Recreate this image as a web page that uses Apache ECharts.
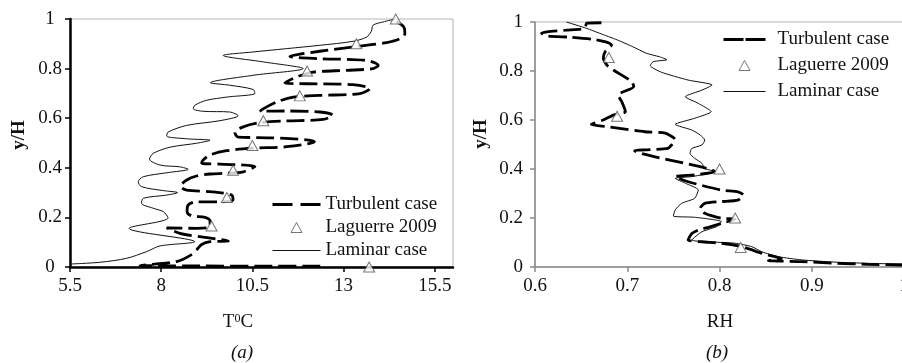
<!DOCTYPE html>
<html>
<head>
<meta charset="utf-8">
<script src="https://cdn.jsdelivr.net/npm/echarts@6/dist/echarts.min.js"></script>
<style>
  html, body { margin: 0; padding: 0; background: #fff; }
  #chart { width: 902px; height: 363px; }
</style>
</head>
<body>
<div id="chart"></div>
<script>
// tick labels
const tempTicks = [5.5, 8, 10.5, 13, 15.5]
const rhTicks = [0.6, 0.7, 0.8, 0.9, 1]
const names = ['Turbulent case', 'Laguerre 2009', 'Laminar case']

// (a) temperature profiles, [T, y/H]
const turbulentT = [
  [14.45, 0.99], [14.65, 0.968], [14.68, 0.941], [14.54, 0.92], [14.18, 0.905], [13.45, 0.891], [12.35, 0.87], [11.53, 0.849],
  [12.35, 0.84], [13.63, 0.833], [13.95, 0.813], [13.81, 0.8], [13.08, 0.793], [12.17, 0.786], [11.71, 0.766], [11.39, 0.742],
  [11.98, 0.739], [13.26, 0.735], [13.72, 0.719], [13.45, 0.699], [12.35, 0.692], [11.62, 0.685], [11.16, 0.665], [10.8, 0.638], [10.71, 0.628],
  [11.44, 0.629], [12.35, 0.625], [12.7, 0.612], [12.44, 0.595], [11.44, 0.589], [10.71, 0.582], [10.25, 0.565], [10.02, 0.542], [10.11, 0.524],
  [10.98, 0.521], [11.98, 0.513], [12.2, 0.505], [11.44, 0.485], [10.52, 0.479], [9.79, 0.469], [9.34, 0.452], [9.15, 0.431], [9.11, 0.418],
  [9.61, 0.415], [10.57, 0.405], [10.25, 0.384], [9.79, 0.378], [9.34, 0.375], [8.97, 0.367], [8.7, 0.351], [8.53, 0.325],
  [8.7, 0.31], [9.34, 0.304], [9.93, 0.29], [9.97, 0.27], [9.61, 0.263], [8.97, 0.263], [8.74, 0.25], [8.71, 0.223], [8.83, 0.207], [9.2, 0.2],
  [9.34, 0.185], [9.34, 0.163], [8.97, 0.156], [8.15, 0.158], [8.51, 0.136], [9.15, 0.12], [9.84, 0.105], [9.34, 0.102], [9.11, 0.091],
  [8.97, 0.069], [8.79, 0.046], [8.42, 0.022], [7.78, 0.011], [7.42, 0.006], [12.4, 0.003]
]
const laminarT = [
  [14.43, 1.0], [14.08, 0.988], [13.81, 0.975], [13.76, 0.95], [13.63, 0.927], [13.26, 0.91], [12.35, 0.894], [10.52, 0.867], [9.7, 0.853],
  [10.8, 0.827], [11.89, 0.8], [10.52, 0.773], [9.35, 0.743], [9.88, 0.733], [10.52, 0.716], [10.57, 0.7], [9.79, 0.685], [9.24, 0.672], [8.92, 0.652], [8.88, 0.638],
  [9.15, 0.628], [9.88, 0.625], [10.11, 0.61], [9.61, 0.59], [8.7, 0.571], [8.19, 0.544], [8.15, 0.528], [8.7, 0.517], [9.34, 0.511],
  [8.97, 0.499], [8.24, 0.483], [7.78, 0.458], [7.68, 0.435], [7.97, 0.411], [8.51, 0.404], [8.74, 0.394], [8.15, 0.38], [7.51, 0.364], [7.37, 0.344],
  [7.46, 0.324], [8.06, 0.308], [8.45, 0.3], [8.15, 0.29], [7.51, 0.277], [7.46, 0.257], [7.78, 0.237], [8.06, 0.223], [8.19, 0.198],
  [7.12, 0.156], [8.92, 0.102], [7.97, 0.085], [7.6, 0.062], [7.05, 0.035], [6.32, 0.019], [5.5, 0.012]
]
const laguerreT = [
  [14.43, 1.0], [13.35, 0.9], [12.0, 0.79], [11.8, 0.69], [10.8, 0.59], [10.5, 0.49],
  [9.97, 0.39], [9.8, 0.28], [9.38, 0.165], [13.7, 0.0]
]

// (b) relative humidity profiles, [RH, y/H]
const turbulentRH = [
  [0.672, 0.997], [0.656, 0.995], [0.654, 0.974], [0.634, 0.967], [0.613, 0.96], [0.607, 0.954], [0.613, 0.943], [0.638, 0.938], [0.663, 0.929], [0.679, 0.916], [0.683, 0.906],
  [0.676, 0.879], [0.674, 0.852], [0.678, 0.824], [0.685, 0.804], [0.705, 0.756], [0.707, 0.736], [0.69, 0.702], [0.694, 0.675], [0.698, 0.634], [0.685, 0.62], [0.674, 0.6],
  [0.661, 0.582], [0.68, 0.572], [0.719, 0.552], [0.741, 0.546], [0.752, 0.52], [0.748, 0.498], [0.744, 0.484], [0.719, 0.478], [0.708, 0.475], [0.795, 0.389],
  [0.773, 0.376], [0.752, 0.369], [0.766, 0.348], [0.802, 0.314], [0.82, 0.307], [0.826, 0.294], [0.82, 0.273], [0.802, 0.267], [0.784, 0.26], [0.779, 0.24],
  [0.784, 0.219], [0.802, 0.199], [0.817, 0.195], [0.802, 0.178], [0.788, 0.162], [0.777, 0.151], [0.77, 0.137], [0.766, 0.11], [0.781, 0.103], [0.802, 0.097],
  [0.824, 0.083], [0.846, 0.056], [0.86, 0.042], [0.867, 0.035], [0.853, 0.026], [0.889, 0.022], [0.925, 0.015], [0.961, 0.011], [1.0, 0.008]
]
const laminarRH = [
  [0.634, 1.0], [0.656, 0.974], [0.67, 0.954], [0.689, 0.927], [0.706, 0.899], [0.721, 0.872], [0.735, 0.858], [0.743, 0.846], [0.728, 0.838], [0.725, 0.822], [0.737, 0.795],
  [0.766, 0.763], [0.792, 0.743], [0.781, 0.722], [0.763, 0.695], [0.777, 0.668], [0.791, 0.634], [0.773, 0.607], [0.752, 0.582], [0.77, 0.559], [0.779, 0.539], [0.784, 0.518],
  [0.781, 0.498], [0.77, 0.484], [0.768, 0.464], [0.773, 0.444], [0.781, 0.423], [0.784, 0.403], [0.795, 0.389], [0.77, 0.369], [0.752, 0.362], [0.763, 0.342], [0.777, 0.314],
  [0.773, 0.28], [0.759, 0.26], [0.752, 0.233], [0.75, 0.208], [0.773, 0.203], [0.802, 0.185], [0.797, 0.165], [0.781, 0.144], [0.77, 0.11], [0.817, 0.097], [0.835, 0.083],
  [0.846, 0.062], [0.864, 0.042], [0.889, 0.029], [0.925, 0.02], [0.961, 0.015], [1.0, 0.012]
]
const laguerreRH = [[0.68, 0.855], [0.689, 0.615], [0.8, 0.4], [0.817, 0.2], [0.823, 0.08]]

const font = "'Liberation Serif', 'Times New Roman', serif"
const chart = echarts.init(document.getElementById('chart'))

const labelStyle = { fontFamily: font, fontSize: 19, color: '#111' }

const turbStyle = { color: '#000', width: 2.8, type: [18, 6] }
const lamStyle = { color: '#111', width: 1 }
const triStyle = { color: '#fff', borderColor: '#555', borderWidth: 1 }

// legend icons drawn as paths inside a box of the icon size
const legendItems = (w) => [
  { name: names[0], icon: `path://M0,0M${w},14M0,5.6L20,5.6L20,8.4L0,8.4ZM${w - 20},5.6L${w},5.6L${w},8.4L${w - 20},8.4Z`, itemStyle: { borderWidth: 0, color: '#000' } },
  { name: names[1], icon: `path://M0,0M${w},14M${w / 2 - 5.5},12L${w / 2 + 5.5},12L${w / 2},2Z`, itemStyle: triStyle },
  { name: names[2], icon: `path://M0,0M${w},14M0,6.5L${w},6.5L${w},7.5L0,7.5Z`, itemStyle: { borderWidth: 0, color: '#111' } }
]

const option = {
  animation: false,
  backgroundColor: '#fff',
  grid: [
    { left: 70, top: 19, width: 383, height: 248, show: true, borderColor: '#b4b4b4', borderWidth: 1, outerBoundsMode: 'none' },
    { left: 535, top: 22, width: 369, height: 245, show: true, borderColor: '#b4b4b4', borderWidth: 1, outerBoundsMode: 'none' }
  ],
  xAxis: [
    {
      gridIndex: 0, type: 'value', min: 5.5, max: 16,
      axisLine: { show: true, lineStyle: { color: '#000', width: 2.5 } },
      axisTick: { show: true, customValues: tempTicks, length: 5, lineStyle: { color: '#000', width: 1.5 } },
      axisLabel: { customValues: tempTicks, margin: 10, ...labelStyle },
      splitLine: { show: false }
    },
    {
      gridIndex: 1, type: 'value', min: 0.6, max: 1, interval: 0.1,
      axisLine: { show: true, lineStyle: { color: '#8a8a8a', width: 1.5 } },
      axisTick: { show: true, length: 5, lineStyle: { color: '#8a8a8a', width: 1.5 } },
      axisLabel: { margin: 10, ...labelStyle },
      splitLine: { show: false }
    }
  ],
  yAxis: [
    {
      gridIndex: 0, type: 'value', min: 0, max: 1, interval: 0.2,
      axisLine: { show: true, lineStyle: { color: '#000', width: 2.5 } },
      axisTick: { show: true, length: 5, lineStyle: { color: '#000', width: 1.5 } },
      axisLabel: { margin: 20, align: 'center', ...labelStyle },
      splitLine: { show: false }
    },
    {
      gridIndex: 1, type: 'value', min: 0, max: 1, interval: 0.2,
      axisLine: { show: true, lineStyle: { color: '#8a8a8a', width: 1.5 } },
      axisTick: { show: true, length: 5, lineStyle: { color: '#8a8a8a', width: 1.5 } },
      axisLabel: { margin: 12, ...labelStyle },
      splitLine: { show: false }
    }
  ],
  legend: [
    {
      data: legendItems(48), orient: 'vertical', left: 272, top: 195, padding: 0,
      itemWidth: 48, itemHeight: 14, itemGap: 4, selectedMode: false,
      textStyle: { ...labelStyle }
    },
    {
      data: legendItems(42), orient: 'vertical', left: 723, top: 30, padding: 0,
      itemWidth: 42, itemHeight: 14, itemGap: 7, selectedMode: false,
      textStyle: { ...labelStyle, padding: [0, 0, 0, 7] }
    }
  ],
  graphic: [
    { type: 'text', x: 19, y: 135, rotation: Math.PI / 2, style: { text: 'y/H', font: 'bold 19px ' + font, fill: '#111', align: 'center', verticalAlign: 'middle' } },
    { type: 'text', x: 481, y: 134, rotation: Math.PI / 2, style: { text: 'y/H', font: 'bold 19px ' + font, fill: '#111', align: 'center', verticalAlign: 'middle' } },
    {
      type: 'text', x: 238, y: 322,
      style: {
        text: '{a|T}{s|0}{a|C}', align: 'center', verticalAlign: 'middle',
        rich: { a: { fontFamily: font, fontSize: 19, fill: '#111' }, s: { fontFamily: font, fontSize: 12, fill: '#111', verticalAlign: 'top' } }
      }
    },
    { type: 'text', x: 720, y: 322, style: { text: 'RH', font: '19px ' + font, fill: '#111', align: 'center', verticalAlign: 'middle' } },
    { type: 'text', x: 242, y: 353, style: { text: '(a)', font: 'italic 19px ' + font, fill: '#111', align: 'center', verticalAlign: 'middle' } },
    { type: 'text', x: 717, y: 353, style: { text: '(b)', font: 'italic 19px ' + font, fill: '#111', align: 'center', verticalAlign: 'middle' } }
  ],
  series: [
    { name: names[0], type: 'line', xAxisIndex: 0, yAxisIndex: 0, data: turbulentT, symbol: 'none', smooth: 0.3, color: '#000', lineStyle: turbStyle, z: 3 },
    { name: names[2], type: 'line', xAxisIndex: 0, yAxisIndex: 0, data: laminarT, symbol: 'none', smooth: 0.3, color: '#111', lineStyle: lamStyle, z: 2 },
    { name: names[1], type: 'scatter', xAxisIndex: 0, yAxisIndex: 0, data: laguerreT, symbol: 'triangle', symbolSize: [11, 10], itemStyle: triStyle, z: 4 },
    { name: names[0], type: 'line', xAxisIndex: 1, yAxisIndex: 1, data: turbulentRH, symbol: 'none', smooth: 0.2, color: '#000', lineStyle: turbStyle, z: 3 },
    { name: names[2], type: 'line', xAxisIndex: 1, yAxisIndex: 1, data: laminarRH, symbol: 'none', smooth: 0.2, color: '#111', lineStyle: lamStyle, z: 2 },
    { name: names[1], type: 'scatter', xAxisIndex: 1, yAxisIndex: 1, data: laguerreRH, symbol: 'triangle', symbolSize: [11, 10], itemStyle: triStyle, z: 4 }
  ]
}

chart.setOption(option)
</script>
</body>
</html>
